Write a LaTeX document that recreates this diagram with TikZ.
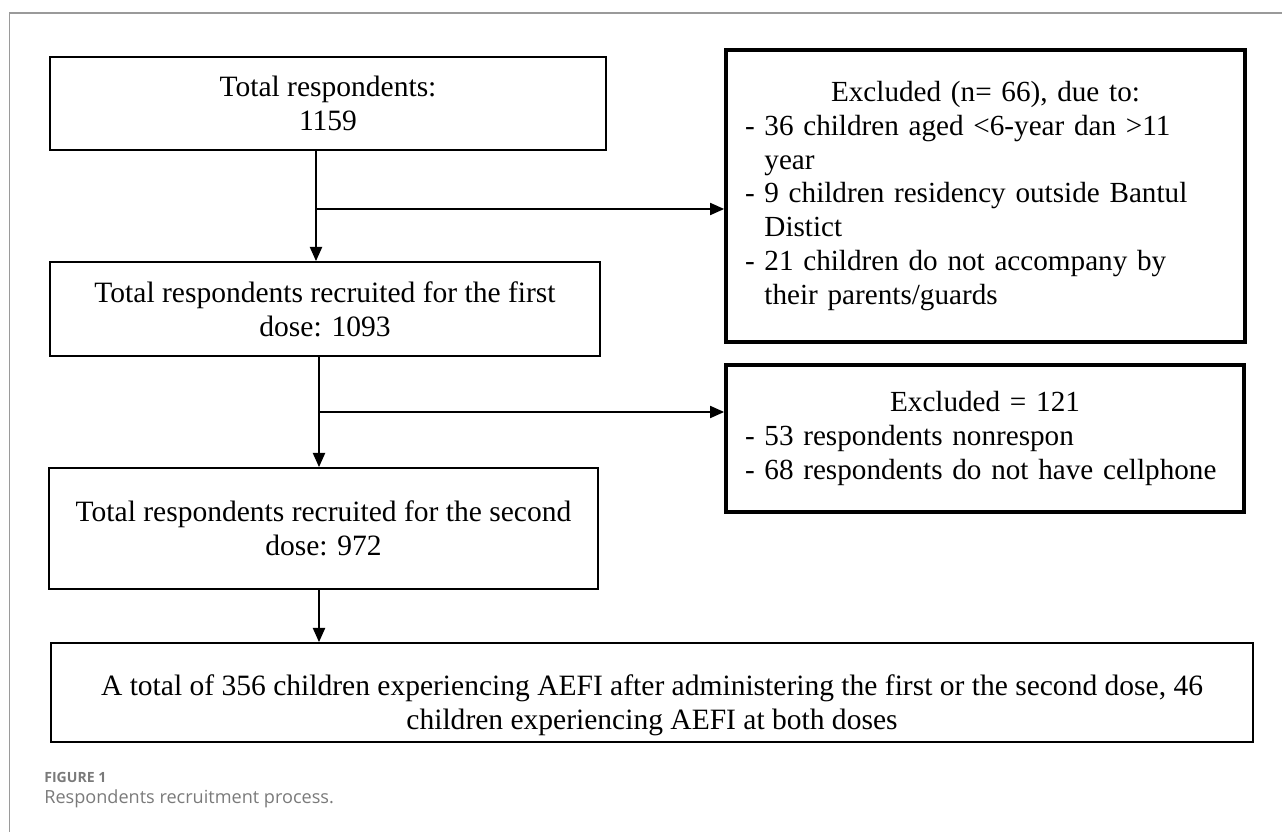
\documentclass[tikz,border=0pt]{standalone}
\usepackage{fontspec}
\setmainfont{Liberation Serif}
\newfontfamily\capfont{Open Sans}
\usetikzlibrary{arrows.meta}
\definecolor{framegray}{HTML}{9A9A9A}
\definecolor{capgray}{HTML}{7A7A7A}

\begin{document}
\begin{tikzpicture}[
    block/.style={rectangle, draw, line width=1.1pt,
              text centered, align=center, inner sep=0pt,
              font=\fontsize{16.8}{19.5}\selectfont},
    exclblock/.style={rectangle, draw, line width=2.2pt,
              inner xsep=0.38cm, inner ysep=0pt, align=left,
              font=\fontsize{16.6}{19.2}\selectfont},
    caption/.style={anchor=base west, inner sep=0pt, text=capgray},
    arrow/.style={-{Triangle[length=8pt, width=7pt]}, line width=0.6pt}
]
    \useasboundingbox (0,0) rectangle (25.64,-16.64);
    \draw[framegray, line width=0.8pt] (0.19,-16.64) -- (0.19,-0.26) -- (25.64,-0.26);

    \node[block, minimum width=11.12cm, minimum height=1.86cm] (tot) at (6.56,-2.07)
        {Total respondents:\\1159};
    \node[block, minimum width=11cm, minimum height=1.88cm] (first) at (6.5,-6.18)
        {Total respondents recruited for the first\\dose: 1093};
    \node[block, minimum width=10.98cm, minimum height=2.42cm] (second) at (6.47,-10.57)
        {Total respondents recruited for the second\\dose: 972};
    \node[block, minimum width=24.04cm, minimum height=1.98cm] (aefi) at (13.04,-13.85)
        {\rule{0pt}{26pt}A total of 356 children experiencing AEFI after administering the first or the second dose, 46\\
         children experiencing AEFI at both doses};

    \node[exclblock, text width=9.62cm, minimum height=5.84cm] (exc1) at (19.71,-3.92)
        {{\centering Excluded (n= 66), due to:\par}
         - 36 children aged <6-year dan >11\\
         \hphantom{- }year\\
         - 9 children residency outside Bantul\\
         \hphantom{- }Distict\\
         - 21 children do not accompany by\\
         \hphantom{- }their parents/guards};
    \node[exclblock, text width=9.6cm, minimum height=2.94cm] (exc2) at (19.7,-8.77)
        {{\centering Excluded = 121\par}
         - 53 respondents nonrespon\\
         - 68 respondents do not have cellphone};

    % junctions of the flow
    \coordinate (j1) at (6.32,-4.18);
    \coordinate (j2) at (6.38,-8.24);

    \draw[arrow] (j1 |- tot.south) -- (j1 |- first.north);
    \draw[arrow] (j1) -- (j1 -| exc1.west);
    \draw[arrow] (j2 |- first.south) -- (j2 |- second.north);
    \draw[arrow] (j2) -- (j2 -| exc2.west);
    \draw[arrow] (j2 |- second.south) -- (j2 |- aefi.north);

    \node[caption, font=\capfont\bfseries\fontsize{8}{10}\selectfont] (figno) at (0.88,-15.64) {FIGURE 1};
    \node[caption, font=\capfont\fontsize{10.3}{12}\selectfont] (figtext) at (0.88,-16.06) {Respondents recruitment process.};
\end{tikzpicture}
\end{document}
